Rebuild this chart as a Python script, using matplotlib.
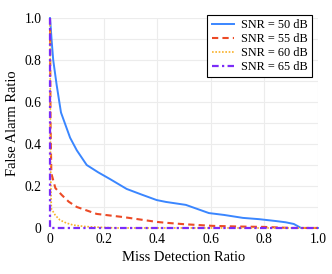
import numpy as np
import matplotlib.pyplot as plt

plt.rcParams['font.family'] = ['Liberation Serif', 'DejaVu Serif']

# SNR = 50 dB
x50 = [0.0, 0.003, 0.006, 0.012, 0.025, 0.041, 0.075, 0.10, 0.137, 0.18, 0.224, 0.286, 0.34, 0.398, 0.433,
       0.507, 0.593, 0.65, 0.72, 0.78, 0.843, 0.88, 0.91, 0.937, 1.0]
y50 = [1.0, 0.95, 0.895, 0.80, 0.68, 0.55, 0.43, 0.37, 0.30, 0.265, 0.233, 0.186, 0.16, 0.133, 0.124,
       0.11, 0.071, 0.062, 0.048, 0.042, 0.033, 0.027, 0.019, 0.0, 0.0]
# SNR = 55 dB
x55 = [0.0, 0.002, 0.005, 0.02, 0.044, 0.07, 0.10, 0.174, 0.273, 0.398, 0.43, 0.5, 0.607, 0.7, 0.8, 0.9, 1.0]
y55 = [1.0, 0.5, 0.26, 0.19, 0.157, 0.125, 0.10, 0.067, 0.052, 0.029, 0.025, 0.018, 0.01, 0.007, 0.005, 0.0, 0.0]
# SNR = 60 dB
x60 = [0.0, 0.002, 0.005, 0.02, 0.037, 0.06, 0.086, 0.13, 0.19, 0.25, 1.0]
y60 = [1.0, 0.3, 0.092, 0.06, 0.038, 0.024, 0.014, 0.007, 0.003, 0.0, 0.0]
# SNR = 65 dB
x65 = [0.0, 0.0, 1.0]
y65 = [1.0, 0.0, 0.0]

labels = ['SNR = 50 dB', 'SNR = 55 dB', 'SNR = 60 dB', 'SNR = 65 dB']
ticklabels = ['0', '0.2', '0.4', '0.6', '0.8', '1.0']

fig = plt.figure(figsize=(3.32, 2.74), dpi=100)
ax = fig.add_axes([0.1506, 0.168, 0.807, 0.766])

ax.plot(x50, y50, color='#3a86ff', lw=1.4, linestyle='-', label=labels[0], clip_on=False, zorder=3)
ax.plot(x55, y55, color='#ec4a26', lw=1.5, linestyle=(0, (3, 2)), label=labels[1], clip_on=False, zorder=3)
ax.plot(x60, y60, color='#f8b22a', lw=1.2, linestyle=(0, (1, 1)), label=labels[2], clip_on=False, zorder=3)
ax.plot(x65, y65, color='#7b2cf8', lw=1.6, linestyle=(0, (3, 1.5, 1, 1.5)), label=labels[3],
        clip_on=False, zorder=4)

ax.set_xlim(0, 1)
ax.set_ylim(0, 1)
ax.set_xticks(np.arange(0, 1.01, 0.2))
ax.set_xticklabels(ticklabels)
ax.set_yticks(np.arange(0, 1.01, 0.2))
ax.set_yticklabels(ticklabels)
ax.set_yticks(np.arange(0, 1.01, 0.1), minor=True)
ax.grid(True, which='both', color='#ececec', lw=0.8)
ax.tick_params(which='both', length=0, labelsize=9.8)
ax.tick_params(axis='x', pad=3.5)
ax.tick_params(axis='y', pad=6)
for s in ax.spines.values():
    s.set_visible(False)

ax.set_xlabel('Miss Detection Ratio', fontsize=10.5, labelpad=4)
ax.set_ylabel('False Alarm Ratio', fontsize=10.5, labelpad=4)

leg = ax.legend(loc='upper right', bbox_to_anchor=(0.978, 1.014), borderaxespad=0, fontsize=8.8,
                frameon=True, fancybox=False, edgecolor='black', framealpha=1, handlelength=1.8,
                borderpad=0.35, labelspacing=0.15, handletextpad=0.6)
leg.get_frame().set_linewidth(0.8)

fig.savefig('out.png', dpi=100)
